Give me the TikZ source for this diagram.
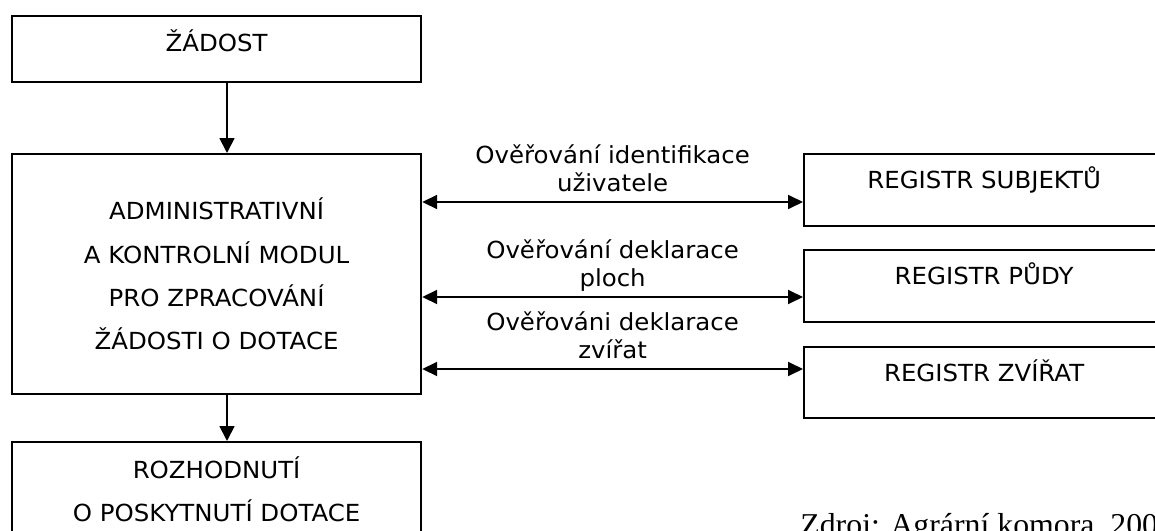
\documentclass[tikz,border=0pt]{standalone}
\usepackage{fontspec}
\setmainfont[FakeStretch=1.04]{DejaVu Sans}
\newfontfamily\zdrojfont{Liberation Serif}
\usetikzlibrary{arrows.meta}
\tikzset{
  box/.style={draw, line width=1.1pt, anchor=north west, align=center, inner sep=0pt,
    font=\fontsize{11.75}{21.7}\selectfont},
  leftbox/.style={box, minimum width=204.5pt},
  regbox/.style={box, minimum width=180pt, minimum height=36pt, text height=8pt, text depth=9.5pt},
  sip/.style={line width=0.9pt, -{Triangle[length=7.5pt,width=7.5pt]}},
  dvojsip/.style={line width=0.9pt, {Triangle[length=7.5pt,width=7pt]}-{Triangle[length=7.5pt,width=7pt]}},
  popis/.style={above, align=center, inner ysep=0.8pt, font=\fontsize{11.75}{14}\selectfont}
}
\begin{document}
\begin{tikzpicture}[x=0.5pt,y=-0.5pt]
  \useasboundingbox (0,0) rectangle (1155,530);
  \clip (0,0) rectangle (1155,530);
  % left column
  \node[leftbox, minimum height=33pt, text height=8pt, text depth=6pt] (zadost) at (11,15) {ŽÁDOST};
  \node[leftbox, minimum height=120pt] (modul) at (11,153) {ADMINISTRATIVNÍ\\A KONTROLNÍ MODUL\\PRO ZPRACOVÁNÍ\\ŽÁDOSTI O DOTACE};
  \node[leftbox, minimum height=47pt] (rozhodnuti) at (11,441) {ROZHODNUTÍ\\O POSKYTNUTÍ DOTACE};
  % registers
  \node[regbox] (subjekty) at (803,153) {REGISTR SUBJEKTŮ};
  \node[regbox] (puda) at (803,249) {REGISTR PŮDY};
  \node[regbox, minimum height=35.5pt] (zvirata) at (803,346) {REGISTR ZVÍŘAT};
  % arrows
  \coordinate (osa) at (227,0);
  \draw[sip] (zadost.south -| osa) -- (modul.north -| osa);
  \draw[sip] (modul.south -| osa) -- (rozhodnuti.north -| osa);
  \coordinate (v1) at (0,202);
  \coordinate (v2) at (0,297);
  \coordinate (v3) at (0,369);
  \draw[dvojsip] (modul.east |- v1) -- node[popis] {Ověřování identifikace\\uživatele\strut} (subjekty.west |- v1);
  \draw[dvojsip] (modul.east |- v2) -- node[popis] {Ověřování deklarace\\ploch\strut} (puda.west |- v2);
  \draw[dvojsip] (modul.east |- v3) -- node[popis] {Ověřováni deklarace\\zvířat\strut} (zvirata.west |- v3);
  % source
  \node[anchor=base west, inner sep=0pt, font=\zdrojfont\fontsize{15.9}{19}\selectfont] (zdroj) at (800,535) {Zdroj: Agrární komora, 200};
\end{tikzpicture}
\end{document}
